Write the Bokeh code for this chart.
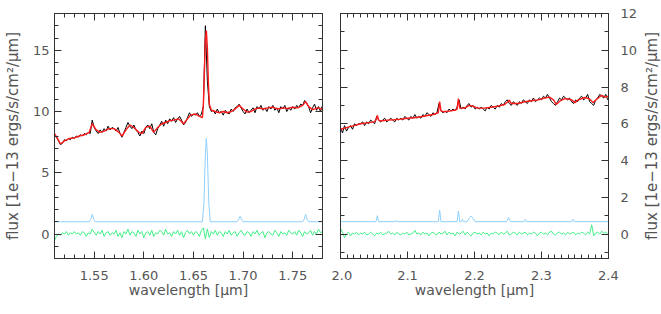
import numpy as np
from bokeh.plotting import figure
from bokeh.models import (Range1d, LinearAxis, SingleIntervalTicker, PrintfTickFormatter,
                          CustomJSTickFormatter, FixedTicker)
from bokeh.layouts import row
from bokeh.embed import file_html
from bokeh.resources import INLINE

# ---------------- data: left panel (H band) ----------------
WL_LEFT_START = 1.510
WL_LEFT_STEP = 0.002
flux_left = [
    8.0, 7.9, 7.6, 7.3, 7.4, 7.7, 7.6, 7.8, 7.7, 7.9,
    7.8, 8.0, 7.9, 8.1, 8.0, 8.2, 8.1, 8.3, 8.2, 9.3,
    8.7, 8.4, 8.2, 8.5, 8.3, 8.6, 8.4, 8.8, 8.5, 8.7,
    8.6, 8.4, 8.7, 8.2, 7.9, 8.3, 8.7, 9.1, 8.8, 8.6,
    8.9, 8.5, 8.3, 8.0, 8.4, 8.2, 8.7, 8.9, 8.6, 9.0,
    8.3, 8.1, 8.6, 8.9, 9.2, 8.8, 9.3, 9.0, 9.4, 9.2,
    9.5, 9.1, 9.4, 9.6, 9.3, 8.9, 9.1, 9.5, 9.9, 9.6,
    9.8, 9.7, 9.9, 9.6, 9.8, 10.4, 17.0, 12.5, 10.4, 10.0,
    10.1, 9.8, 10.2, 9.9, 10.0, 9.7, 10.1, 9.9, 9.8, 10.2,
    10.0, 10.3, 10.4, 10.6, 10.3, 10.0, 9.8, 10.2, 9.9, 10.1,
    10.3, 9.9, 10.4, 10.2, 10.5, 10.1, 10.3, 10.0, 10.4, 10.2,
    10.5, 10.1, 10.3, 9.9, 10.4, 10.2, 10.5, 10.0, 10.3, 10.1,
    10.4, 10.2, 10.5, 10.3, 10.6, 10.5, 10.9, 10.7, 10.4, 9.9,
    10.3, 10.6, 10.1, 10.4, 10.0, 10.5,
]
resid_left = [
    -0.5, -0.2, 0.0, -0.1, 0.1, 0.0, 0.2, -0.1, 0.1, 0.0,
    0.2, 0.0, 0.1, -0.1, 0.2, 0.1, -0.2, 0.1, 0.0, 0.4,
    0.1, -0.1, 0.2, 0.0, 0.3, -0.2, 0.1, 0.2, -0.1, 0.1,
    0.0, 0.3, -0.2, 0.1, -0.3, 0.2, 0.0, 0.4, -0.1, 0.2,
    0.1, -0.2, 0.3, 0.0, 0.2, -0.3, 0.1, 0.2, -0.1, 0.3,
    -0.2, 0.1, 0.0, 0.3, 0.2, -0.1, 0.4, 0.0, 0.1, -0.2,
    0.2, 0.0, 0.3, -0.1, 0.2, -0.3, 0.1, 0.3, 0.0, 0.2,
    -0.1, 0.2, 0.1, -0.2, 0.3, 0.5, -0.4, 0.4, -0.3, 0.2,
    0.0, 0.3, -0.1, 0.2, 0.1, -0.2, 0.2, 0.0, 0.3, -0.1,
    0.1, 0.2, -0.2, 0.1, 0.3, 0.0, -0.1, 0.2, 0.1, -0.2,
    0.2, 0.0, 0.3, -0.1, 0.1, 0.2, -0.3, 0.1, 0.2, 0.0,
    -0.1, 0.3, 0.1, -0.2, 0.2, 0.0, 0.1, -0.1, 0.3, 0.1,
    0.0, 0.2, -0.1, 0.3, 0.1, -0.2, 0.2, 0.0, 0.1, 0.3,
    -0.1, 0.2, 0.0, 0.4, 0.1, 0.2,
]
model_left_wl = [
    1.510, 1.513, 1.516, 1.520, 1.525, 1.530, 1.535, 1.540, 1.545, 1.548,
    1.552, 1.556, 1.560, 1.565, 1.570, 1.575, 1.578, 1.582, 1.586, 1.590,
    1.595, 1.598, 1.602, 1.606, 1.610, 1.614, 1.618, 1.622, 1.626, 1.630,
    1.635, 1.640, 1.643, 1.647, 1.652, 1.656, 1.659, 1.660, 1.661, 1.662,
    1.663, 1.664, 1.665, 1.666, 1.668, 1.672, 1.676, 1.680, 1.684, 1.688,
    1.692, 1.696, 1.700, 1.704, 1.708, 1.712, 1.716, 1.720, 1.725, 1.730,
    1.735, 1.740, 1.745, 1.750, 1.755, 1.760, 1.763, 1.766, 1.770, 1.775,
    1.780,
]
model_left = [
    8.2, 7.8, 7.35, 7.6, 7.8, 7.85, 8.0, 8.1, 8.3, 9.0,
    8.5, 8.3, 8.4, 8.6, 8.6, 8.3, 8.0, 8.5, 8.9, 8.7,
    8.3, 8.2, 8.7, 8.8, 8.3, 8.7, 9.0, 9.1, 9.25, 9.3,
    9.4, 9.0, 9.3, 9.7, 9.8, 9.6, 9.5, 10.6, 13.2, 15.9,
    16.6, 15.2, 12.4, 10.6, 10.1, 10.0, 9.9, 10.0, 9.9, 10.0,
    10.2, 10.5, 10.2, 9.95, 10.0, 10.2, 10.3, 10.2, 10.3, 10.35,
    10.2, 10.3, 10.25, 10.35, 10.3, 10.5, 10.8, 10.4, 10.15, 10.3,
    10.2,
]
lines_left_wl = [
    1.510, 1.545, 1.5465, 1.548, 1.5495, 1.551,
    1.659, 1.6605, 1.662, 1.663, 1.664, 1.6655, 1.667,
    1.694, 1.6955, 1.697, 1.6985, 1.700,
    1.760, 1.7615, 1.763, 1.7645, 1.766, 1.780,
]
lines_left = [
    1.0, 1.0, 1.2, 1.6, 1.2, 1.0,
    1.0, 2.5, 6.5, 7.8, 6.5, 2.5, 1.0,
    1.0, 1.2, 1.45, 1.2, 1.0,
    1.0, 1.2, 1.6, 1.2, 1.0, 1.0,
]

# ---------------- data: right panel (K band) ----------------
WL_RIGHT_START = 2.000
WL_RIGHT_STEP = 0.003
flux_right = [
    5.8, 5.5, 5.9, 5.6, 5.8, 5.9, 5.7, 6.0, 5.9, 6.0,
    6.0, 6.1, 5.9, 6.1, 6.0, 6.2, 6.1, 6.0, 6.4, 6.2,
    6.1, 6.2, 6.3, 6.1, 6.2, 6.3, 6.2, 6.1, 6.3, 6.2,
    6.3, 6.2, 6.4, 6.3, 6.2, 6.4, 6.3, 6.5, 6.3, 6.4,
    6.3, 6.5, 6.4, 6.6, 6.5, 6.4, 6.6, 6.5, 6.6, 7.1,
    6.7, 6.6, 6.7, 6.6, 6.8, 6.7, 6.8, 6.7, 6.9, 7.3,
    6.8, 6.9, 6.8, 7.0, 7.1, 6.9, 7.0, 6.8, 6.9, 6.8,
    6.9, 6.8, 6.7, 6.9, 6.8, 7.0, 6.9, 6.8, 7.0, 6.9,
    7.1, 7.0, 7.2, 7.3, 7.1, 7.0, 7.2, 7.1, 7.0, 7.2,
    7.1, 7.3, 7.2, 7.1, 7.3, 7.2, 7.4, 7.2, 7.3, 7.4,
    7.3, 7.5, 7.4, 7.6, 7.4, 7.2, 7.1, 7.0, 7.2, 7.4,
    7.3, 7.5, 7.4, 7.3, 7.4, 7.2, 7.1, 7.3, 7.2, 7.4,
    7.5, 7.3, 7.4, 7.6, 7.2, 7.1, 7.0, 7.3, 7.4, 7.6,
    7.5, 7.4, 7.6, 7.3,
]
resid_right = [
    0.3, 0.1, -0.2, 0.0, 0.1, -0.1, 0.05, 0.0, 0.1, -0.05,
    0.05, 0.0, 0.1, -0.05, 0.0, 0.1, 0.0, -0.1, 0.05, 0.0,
    0.1, -0.05, 0.0, 0.05, 0.15, 0.0, 0.05, -0.05, 0.1, 0.0,
    -0.05, 0.05, 0.0, 0.1, -0.05, 0.0, 0.05, 0.2, 0.0, 0.05,
    -0.05, 0.1, 0.0, 0.05, -0.1, 0.05, 0.1, 0.0, -0.05, 0.1,
    0.0, 0.05, 0.15, -0.05, 0.1, 0.0, 0.05, -0.1, 0.1, 0.0,
    0.05, 0.15, -0.05, 0.1, 0.0, -0.1, 0.05, 0.1, 0.0, 0.05,
    -0.05, 0.1, 0.0, 0.05, -0.1, 0.05, 0.0, 0.1, 0.05, -0.05,
    0.1, 0.0, 0.05, 0.15, -0.05, 0.0, 0.1, 0.05, -0.05, 0.1,
    0.0, 0.05, 0.1, -0.05, 0.05, 0.0, 0.1, 0.05, -0.1, 0.05,
    0.1, 0.0, 0.05, -0.05, 0.1, 0.15, 0.0, -0.05, 0.05, 0.1,
    0.0, 0.05, -0.05, 0.1, 0.0, 0.05, 0.1, -0.05, 0.05, 0.0,
    0.1, 0.05, -0.05, 0.1, 0.0, 0.5, -0.1, 0.05, 0.1, 0.0,
    0.15, 0.05, 0.1, 0.0,
]
model_right_wl = [
    2.000, 2.010, 2.020, 2.030, 2.040, 2.050, 2.053, 2.055, 2.057, 2.060,
    2.070, 2.080, 2.090, 2.100, 2.110, 2.120, 2.130, 2.140, 2.146, 2.148,
    2.150, 2.155, 2.165, 2.172, 2.174, 2.176, 2.178, 2.185, 2.192, 2.198,
    2.205, 2.215, 2.225, 2.235, 2.245, 2.250, 2.252, 2.255, 2.265, 2.275,
    2.285, 2.295, 2.305, 2.312, 2.318, 2.322, 2.328, 2.335, 2.340, 2.345,
    2.350, 2.355, 2.365, 2.372, 2.377, 2.383, 2.390, 2.395, 2.400,
]
model_right = [
    5.7, 5.8, 5.9, 6.0, 6.05, 6.1, 6.2, 6.45, 6.2, 6.15,
    6.2, 6.22, 6.25, 6.3, 6.33, 6.38, 6.45, 6.52, 6.6, 7.2,
    6.7, 6.65, 6.7, 6.75, 6.8, 7.37, 6.85, 6.85, 7.0, 6.95,
    6.85, 6.85, 6.9, 6.96, 7.05, 7.2, 7.28, 7.1, 7.1, 7.2,
    7.25, 7.3, 7.4, 7.45, 7.3, 7.05, 7.25, 7.37, 7.35, 7.3,
    7.15, 7.3, 7.43, 7.35, 7.15, 7.35, 7.55, 7.45, 7.5,
]
lines_right_wl = [
    2.000, 2.053, 2.055, 2.057, 2.082, 2.0835, 2.085,
    2.146, 2.148, 2.150, 2.174, 2.176, 2.178, 2.180, 2.182, 2.184,
    2.189, 2.193, 2.195, 2.197, 2.201, 2.248, 2.251, 2.254,
    2.274, 2.276, 2.278, 2.345, 2.347, 2.349, 2.400,
]
lines_right = [
    0.67, 0.67, 1.0, 0.67, 0.67, 0.76, 0.67,
    0.67, 1.3, 0.67, 0.67, 1.25, 0.67, 0.67, 0.8, 0.67,
    0.67, 0.9, 0.98, 0.9, 0.67, 0.67, 0.9, 0.67,
    0.67, 0.8, 0.67, 0.67, 0.8, 0.67, 0.67,
]

YLABEL = "flux [1e\u221213 ergs/s/cm\u00b2/\u03bcm]"
XLABEL = "wavelength [\u03bcm]"

FONT = "DejaVu Sans"
TXT = "#555555"
AXC = "#333333"
BLACK = "#000000"
RED = "#ff1a1a"
BLUE = "#8fd0ff"
GREEN = "#44ee88"

FRAME_TOP = 13
FRAME_H = 245
BOTTOM = 50
FIG_H = FRAME_TOP + FRAME_H + BOTTOM
X1 = (1.51, 1.78)
X2 = (2.0, 2.4001)
Y1 = (-2, 18)
Y2 = (-4.0 / 3.0, 12)


def style_axis(ax, interval, minor, fmt, labels=True, label=None,
               label_standoff=5, axis_label_standoff=6, label_size="14px"):
    ax.ticker = SingleIntervalTicker(interval=interval, num_minor_ticks=minor)
    ax.major_tick_in = 7
    ax.major_tick_out = 0
    ax.minor_tick_in = 4
    ax.minor_tick_out = 0
    ax.major_tick_line_color = AXC
    ax.minor_tick_line_color = AXC
    ax.axis_line_color = AXC
    if labels:
        ax.formatter = PrintfTickFormatter(format=fmt)
        ax.major_label_text_font = FONT
        ax.major_label_text_color = TXT
        ax.major_label_text_font_size = "13px"
        ax.major_label_standoff = label_standoff
    else:
        ax.formatter = CustomJSTickFormatter(code="return ''")
        ax.major_label_text_font_size = "1px"
        ax.major_label_standoff = 0
    if label:
        ax.axis_label = label
        ax.axis_label_text_font = FONT
        ax.axis_label_text_font_style = "normal"
        ax.axis_label_text_color = TXT
        ax.axis_label_text_font_size = label_size
        ax.axis_label_standoff = axis_label_standoff


def make_fig(width, xr, yr, borders):
    p = figure(width=width, height=FIG_H, x_range=Range1d(*xr), y_range=Range1d(*yr),
               output_backend="svg", toolbar_location=None,
               x_axis_location=None, y_axis_location=None,
               min_border_left=borders[0], min_border_right=borders[1],
               min_border_top=FRAME_TOP, min_border_bottom=BOTTOM)
    p.xgrid.visible = False
    p.ygrid.visible = False
    p.outline_line_color = AXC
    p.background_fill_color = "white"
    p.border_fill_color = "white"
    return p


# ---------- left panel ----------
p1 = make_fig(331, X1, Y1, (52, 9))
xb = LinearAxis()
style_axis(xb, 0.05, 5, "%.2f", labels=True, label=XLABEL, label_standoff=12,
           axis_label_standoff=-1)
p1.add_layout(xb, "below")
xt = LinearAxis()
style_axis(xt, 0.05, 5, "%.2f", labels=False)
p1.add_layout(xt, "above")
yl = LinearAxis()
style_axis(yl, 5, 5, "%d", labels=True, label=YLABEL, label_standoff=5,
           axis_label_standoff=8, label_size="15px")
p1.add_layout(yl, "left")
yr_ = LinearAxis()
style_axis(yr_, 5, 5, "%d", labels=False)
p1.add_layout(yr_, "right")

wl_left = WL_LEFT_START + WL_LEFT_STEP * np.arange(len(flux_left))
p1.line(wl_left, flux_left, line_color=BLACK, line_width=1)
p1.line(model_left_wl, model_left, line_color=RED, line_width=1.4)
p1.line(lines_left_wl, lines_left, line_color=BLUE, line_width=1)
p1.line(wl_left, resid_left, line_color=GREEN, line_width=1)

# ---------- right panel ----------
p2 = make_fig(309, X2, Y2, (9, 32))
xb2 = LinearAxis()
style_axis(xb2, 0.1, 10, "%.1f", labels=True, label=XLABEL, label_standoff=12,
           axis_label_standoff=-1)
p2.add_layout(xb2, "below")
xt2 = LinearAxis()
style_axis(xt2, 0.1, 10, "%.1f", labels=False)
p2.add_layout(xt2, "above")
yl2 = LinearAxis()
style_axis(yl2, 2, 2, "%d", labels=False)
p2.add_layout(yl2, "left")
yr2 = LinearAxis()
style_axis(yr2, 2, 2, "%d", labels=True, label_standoff=12)
p2.add_layout(yr2, "right")

wl_right = WL_RIGHT_START + WL_RIGHT_STEP * np.arange(len(flux_right))
p2.line(wl_right, flux_right, line_color=BLACK, line_width=1)
p2.line(model_right_wl, model_right, line_color=RED, line_width=1.4)
p2.line(lines_right_wl, lines_right, line_color=BLUE, line_width=1)
p2.line(wl_right, resid_right, line_color=GREEN, line_width=1)

# ---------- strip carrying the right-hand axis title ----------
p3 = figure(width=21, height=FIG_H, x_range=Range1d(0, 1), y_range=Range1d(*Y2),
            output_backend="svg", toolbar_location=None,
            x_axis_location=None, y_axis_location=None,
            min_border_left=18, min_border_right=0,
            min_border_top=FRAME_TOP, min_border_bottom=BOTTOM)
p3.xgrid.visible = False
p3.ygrid.visible = False
p3.outline_line_color = None
p3.background_fill_color = "white"
p3.border_fill_color = "white"
ya3 = LinearAxis(ticker=FixedTicker(ticks=[]))
ya3.axis_line_color = None
ya3.major_tick_line_color = None
ya3.minor_tick_line_color = None
ya3.major_label_standoff = 0
ya3.major_label_text_font_size = "1px"
ya3.formatter = CustomJSTickFormatter(code="return ''")
ya3.axis_label = YLABEL
ya3.axis_label_text_font = FONT
ya3.axis_label_text_font_style = "normal"
ya3.axis_label_text_color = TXT
ya3.axis_label_text_font_size = "15px"
ya3.axis_label_standoff = 1
p3.add_layout(ya3, "left")

layout = row(p1, p2, p3)
open("out.html", "w").write(file_html(layout, INLINE))
